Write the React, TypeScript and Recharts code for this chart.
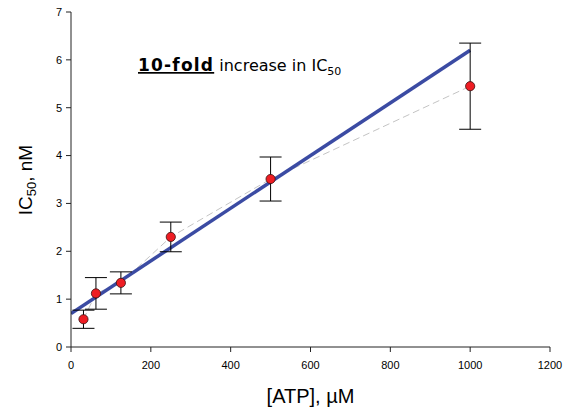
import React from 'react'
import { ComposedChart, Line, Scatter, ErrorBar, XAxis, YAxis } from 'recharts'

// IC50 vs ATP concentration
const atp = [31.25, 62.5, 125, 250, 500, 1000]
const ic50 = [0.58, 1.12, 1.34, 2.3, 3.51, 5.45]
const ic50Err = [0.19, 0.33, 0.23, 0.31, 0.46, 0.9]

const xTicks = [0, 200, 400, 600, 800, 1000, 1200]
const yTicks = [0, 1, 2, 3, 4, 5, 6, 7]

// linear fit
const fitIntercept = 0.7
const fitSlope = 0.0055
const fitRange = [0, 1000]

const points = atp.map((x, i) => ({ x, y: ic50[i], err: ic50Err[i] }))
const fitData = fitRange.map(x => ({ x, fit: fitIntercept + fitSlope * x }))

const arial = 'Liberation Sans, Arial, sans-serif'
const verdana = 'DejaVu Sans, Verdana, sans-serif'
const tickStyle = { fontSize: 11, fill: '#000', fontFamily: arial }

const Dot = (props: any) => (
  <circle cx={props.cx} cy={props.cy} r={4.6} fill="#ee1d23" stroke="#3a1010" strokeWidth={0.8} />
)

export default function App() {
  return (
    <div style={{ position: 'relative', width: 566, height: 412, background: '#fff' }}>
      <style>{'body{margin:0}'}</style>
      <ComposedChart width={566} height={412} margin={{ top: 12, right: 16, bottom: 0, left: 0 }}>
        <XAxis
          dataKey="x"
          type="number"
          domain={[0, 1200]}
          ticks={xTicks}
          height={65}
          tickSize={5}
          tickMargin={9}
          tick={tickStyle}
          stroke="#222"
          allowDataOverflow
        />
        <XAxis xAxisId="top" orientation="top" type="number" domain={[0, 1200]} height={0} tick={false} tickLine={false} stroke="#222" />
        <YAxis
          type="number"
          domain={[0, 7]}
          ticks={yTicks}
          width={71}
          tickSize={5}
          tickMargin={4}
          tick={tickStyle}
          stroke="#222"
        />
        <YAxis yAxisId="right" orientation="right" type="number" domain={[0, 7]} width={0} tick={false} tickLine={false} stroke="#222" />
        <Line
          data={points}
          dataKey="y"
          stroke="#c4c4c4"
          strokeWidth={1}
          strokeDasharray="7 4"
          dot={false}
          activeDot={false}
          isAnimationActive={false}
        />
        <Line
          data={fitData}
          dataKey="fit"
          stroke="#3b4ba3"
          strokeWidth={3.5}
          dot={false}
          activeDot={false}
          isAnimationActive={false}
        />
        <Scatter data={points} dataKey="y" shape={Dot} isAnimationActive={false}>
          <ErrorBar dataKey="err" direction="y" width={11} stroke="#000" strokeWidth={1} />
        </Scatter>
      </ComposedChart>
      <svg width={566} height={412} style={{ position: 'absolute', left: 0, top: 0, pointerEvents: 'none' }}>
        <text x={138} y={71} fontFamily={verdana} fontSize={16} fill="#000">
          <tspan fontSize={17} fontWeight="bold" textDecoration="underline" letterSpacing={1.2}>10-fold</tspan>
          <tspan> increase in IC</tspan>
          <tspan fontSize={11} dy={4}>50</tspan>
        </text>
        <text
          x={32}
          y={180}
          textAnchor="middle"
          transform="rotate(-90, 32, 180)"
          fontFamily={arial}
          fontSize={19}
          fill="#000"
        >
          IC<tspan fontSize={13} dy={4}>50</tspan>
          <tspan dy={-4}>, nM</tspan>
        </text>
        <text x={310.5} y={403} textAnchor="middle" fontFamily={arial} fontSize={20} fill="#000">
          [ATP], µM
        </text>
      </svg>
    </div>
  )
}
